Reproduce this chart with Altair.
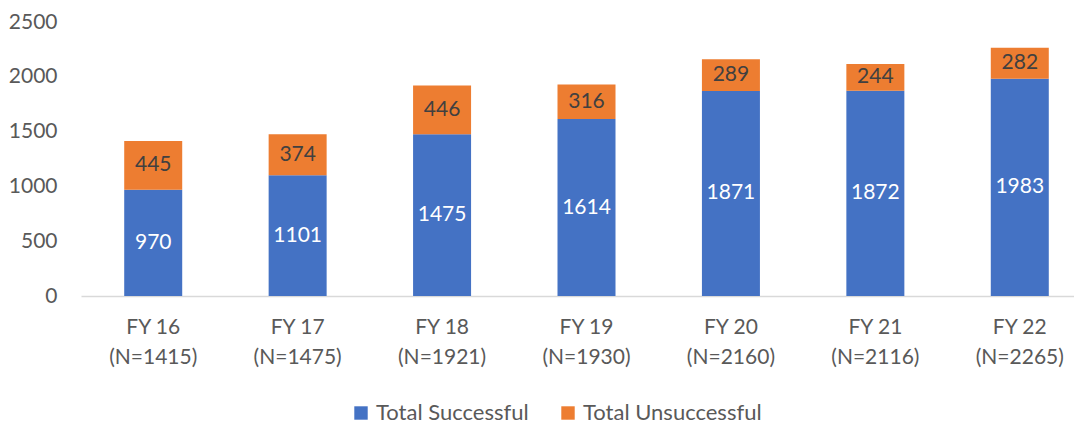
import altair as alt
import pandas as pd

categories = ["FY 16", "FY 17", "FY 18", "FY 19", "FY 20", "FY 21", "FY 22"]
n_labels = ["(N=1415)", "(N=1475)", "(N=1921)", "(N=1930)", "(N=2160)", "(N=2116)", "(N=2265)"]
successful = [970, 1101, 1475, 1614, 1871, 1872, 1983]
unsuccessful = [445, 374, 446, 316, 289, 244, 282]
series = ["Total Successful", "Total Unsuccessful"]
colors = ["#4472C4", "#ED7D31"]

rows = []
for i, c in enumerate(categories):
    s, u = successful[i], unsuccessful[i]
    rows.append({"cat": c, "series": series[0], "value": s, "y0": 0, "y1": s,
                 "mid": s / 2, "tcol": "white"})
    rows.append({"cat": c, "series": series[1], "value": u, "y0": s, "y1": s + u,
                 "mid": s + u / 2, "tcol": "#404040"})
df = pd.DataFrame(rows)

label_map = {c: n for c, n in zip(categories, n_labels)}
label_expr = "[datum.value, " + "{" + ", ".join(f"'{c}': '{n}'" for c, n in label_map.items()) + "}[datum.value]]"

FONT = "Lato"
FS = 21

xscale = alt.Scale(paddingInner=0, paddingOuter=0, range=[0, 1011])
yscale = alt.Scale(domain=[0, 2500], nice=False, zero=True)

x = alt.X("cat:N", sort=categories, title=None,
          axis=alt.Axis(labelAngle=0, labelExpr=label_expr, labelFontSize=FS,
                        labelColor="#595959", labelFont=FONT, labelLineHeight=30,
                        labelPadding=20, ticks=False, domainColor="#D9D9D9",
                        domainWidth=1.5),
          scale=xscale)

bars = alt.Chart(df).mark_bar(size=58).encode(
    x=x,
    y=alt.Y("y0:Q", title=None, scale=yscale,
            axis=alt.Axis(values=[0, 500, 1000, 1500, 2000, 2500], grid=False,
                          format="d",
                          domain=False, ticks=False, labelFontSize=FS,
                          labelColor="#595959", labelFont=FONT, labelPadding=24)),
    y2="y1:Q",
    color=alt.Color("series:N", scale=alt.Scale(domain=series, range=colors),
                    legend=alt.Legend(title=None, orient="none", direction="horizontal",
                                      legendX=269, legendY=380, symbolType="square",
                                      symbolSize=180, symbolStrokeWidth=0,
                                      labelFontSize=22, labelColor="#595959",
                                      labelFont=FONT, columnPadding=28,
                                      labelLimit=0, symbolOpacity=1)),
)

texts = alt.Chart(df).mark_text(fontSize=FS, font=FONT, baseline="middle").encode(
    x=alt.X("cat:N", sort=categories, scale=xscale),
    y=alt.Y("mid:Q", scale=yscale),
    text=alt.Text("value:Q"),
    color=alt.Color("tcol:N", scale=None, legend=None),
)

chart = alt.layer(bars, texts).properties(
    width=993, height=274,
    autosize=alt.AutoSizeParams(type="none"),
    padding={"left": 73, "top": 14, "right": 0, "bottom": 128},
).configure_view(stroke=None)

chart.save("out.html", embed_options={"renderer": "svg", "actions": False})
